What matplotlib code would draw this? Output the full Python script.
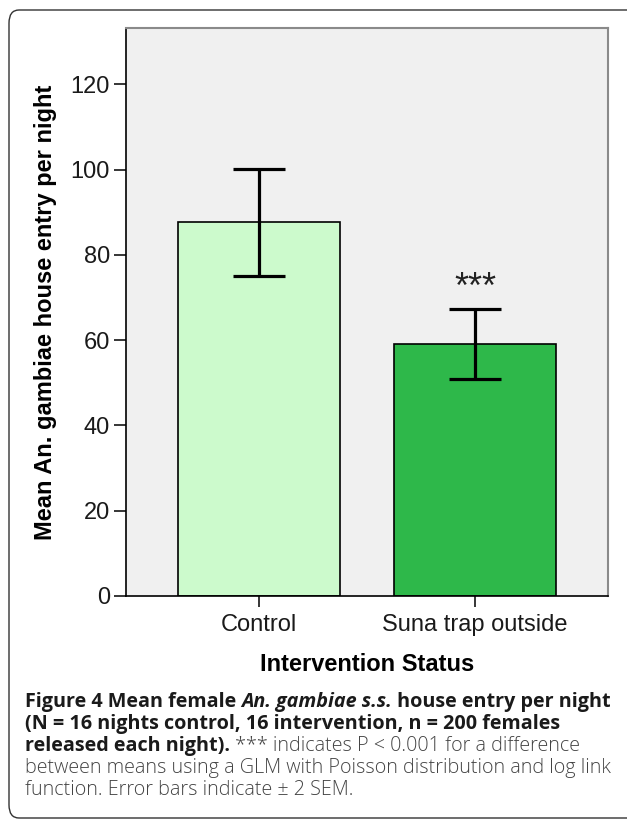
import matplotlib
matplotlib.use("Agg")
import matplotlib.pyplot as plt
from matplotlib.patches import FancyBboxPatch

# data
groups = ["Control", "Suna trap outside"]
means = [87.7, 59.1]
err_low = [75.0, 50.9]
err_high = [100.1, 67.3]
bar_colors = ["#ccfacc", "#2eb84a"]
yticks = [0, 20, 40, 60, 80, 100, 120]
star_label = "***"
star_y = 70.0   # baseline of the significance stars

W, H = 627, 821
fig = plt.figure(figsize=(W / 100, H / 100), dpi=100)
fig.patch.set_facecolor("white")

# rounded outer frame (runs off the right edge)
frame = FancyBboxPatch((9 / W, 1 - 818 / H), 680 / W, (818 - 10) / H,
                       boxstyle="round,pad=0,rounding_size=0.016",
                       transform=fig.transFigure, fill=False,
                       edgecolor="#333333", linewidth=1.0)
fig.patches.append(frame)

ax = fig.add_axes([126 / W, 1 - 596 / H, (608 - 126) / W, (596 - 28) / H])
ax.set_facecolor("#f0f0f0")

x = range(len(groups))
yerr = [[m - lo for m, lo in zip(means, err_low)],
        [hi - m for m, hi in zip(means, err_high)]]
ax.bar(x, means, width=0.75, color=bar_colors, edgecolor="black",
       linewidth=1.2, zorder=2)
ax.errorbar(x, means, yerr=yerr, fmt="none", ecolor="black",
            elinewidth=2.3, capsize=19, capthick=2.3, zorder=3)
ax.text(1, star_y, star_label, ha="center", va="baseline", fontsize=26,
        color="#222222", family=["Liberation Sans"])

ax.set_xlim(-0.616, 1.616)
ax.set_ylim(0, 133.2)
ax.set_yticks(yticks)
ax.set_xticks(list(x))
ax.set_xticklabels(groups)

for lab in ax.get_xticklabels() + ax.get_yticklabels():
    lab.set_family(["Liberation Sans"])
    lab.set_fontsize(17)
    lab.set_color("#1a1a1a")
ax.tick_params(axis="y", length=8.5, width=1.1, pad=3)
ax.tick_params(axis="x", length=8, width=1.1, pad=5)

for s in ["left", "bottom"]:
    ax.spines[s].set_color("black")
    ax.spines[s].set_linewidth(1.2)
for s in ["top", "right"]:
    ax.spines[s].set_color("#8a8a8a")
    ax.spines[s].set_linewidth(1.5)

ax.set_ylabel("Mean An. gambiae house entry per night", fontsize=17,
              fontweight="bold", family=["Liberation Sans"], labelpad=10)
ax.set_xlabel("Intervention Status", fontsize=17, fontweight="bold",
              family=["Liberation Sans"], labelpad=12)

# caption, laid out run by run
cap_font = ["Open Sans", "DejaVu Sans"]
cap_size = 14.2
caption = [
    [("Figure 4 Mean female ", "bold", "normal"),
     ("An. gambiae s.s.", "bold", "italic"),
     (" house entry per night", "bold", "normal")],
    [("(N = 16 nights control, 16 intervention, n = 200 females", "bold", "normal")],
    [("released each night).", "bold", "normal"),
     (" *** indicates P < 0.001 for a difference", "light", "normal")],
    [("between means using a GLM with Poisson distribution and log link", "light", "normal")],
    [("function. Error bars indicate \u00b1 2 SEM.", "light", "normal")],
]
line_y = [702, 724, 746, 768, 790]

fig.canvas.draw()
renderer = fig.canvas.get_renderer()
for runs, yy in zip(caption, line_y):
    xpos = 25
    for txt, weight, style in runs:
        color = "#1a1a1a" if weight == "bold" else "#444444"
        t = fig.text(xpos / W, 1 - yy / H, txt, fontsize=cap_size,
                     fontweight=weight, fontstyle=style, family=cap_font,
                     color=color, ha="left", va="center")
        bb = t.get_window_extent(renderer=renderer)
        xpos += bb.width

fig.savefig("out.png", dpi=100)
